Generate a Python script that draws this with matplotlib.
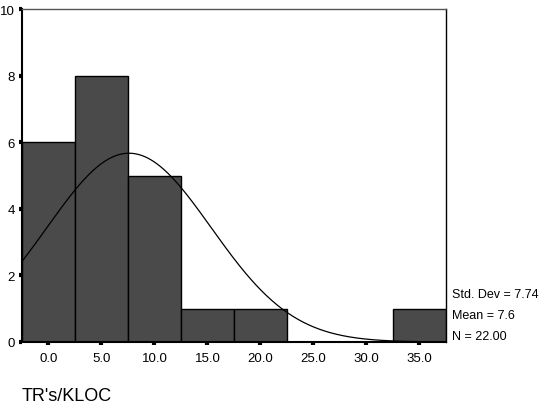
import numpy as np
import matplotlib.pyplot as plt

plt.rcParams['font.family'] = ['Liberation Sans', 'DejaVu Sans']

# histogram data (bin centres, counts)
bin_centers = [0, 5, 10, 15, 20, 25, 30, 35]
counts = [6, 8, 5, 1, 1, 0, 0, 1]
bin_width = 5
x_ticks = [0, 5, 10, 15, 20, 25, 30, 35]
x_tick_labels = ["0.0", "5.0", "10.0", "15.0", "20.0", "25.0", "30.0", "35.0"]
y_ticks = [0, 2, 4, 6, 8, 10]

std_dev = 7.74
mean = 7.6
n = 22

fig = plt.figure(figsize=(5.48, 4.14), dpi=100)
ax = fig.add_axes([0.0401, 0.1715, 0.7737, 0.8043])

ax.bar(bin_centers, counts, width=bin_width, color="#4a4a4a",
       edgecolor="black", linewidth=1.0, zorder=2)

# normal curve scaled to the histogram
xs = np.linspace(-2.5, 37.5, 400)
scale = n * bin_width / (std_dev * np.sqrt(2 * np.pi))
ys = scale * np.exp(-0.5 * ((xs - mean) / std_dev) ** 2)
ax.plot(xs, ys, color="black", linewidth=0.9, zorder=3)

ax.set_xlim(-2.5, 37.5)
ax.set_ylim(0, 10)
ax.set_xticks(x_ticks)
ax.set_xticklabels(x_tick_labels)
ax.set_yticks(y_ticks)
ax.tick_params(axis="both", direction="out", length=2, width=3, labelsize=9.5)
ax.tick_params(axis="x", pad=5)
ax.tick_params(axis="y", pad=3)

ax.spines["left"].set_linewidth(1.5)
ax.spines["bottom"].set_linewidth(1.5)
ax.spines["top"].set_linewidth(1.0)
ax.spines["right"].set_linewidth(1.0)
ax.spines["top"].set_color("#555555")

fig.text(452 / 548, 1 - 295 / 414, f"Std. Dev = {std_dev:.2f}", fontsize=9, va="center")
fig.text(452 / 548, 1 - 316 / 414, f"Mean = {mean:.1f}", fontsize=9, va="center")
fig.text(452 / 548, 1 - 337 / 414, f"N = {n:.2f}", fontsize=9, va="center")
fig.text(22 / 548, 1 - 397 / 414, "TR's/KLOC", fontsize=13, va="center")

fig.savefig("out.png", dpi=100)
